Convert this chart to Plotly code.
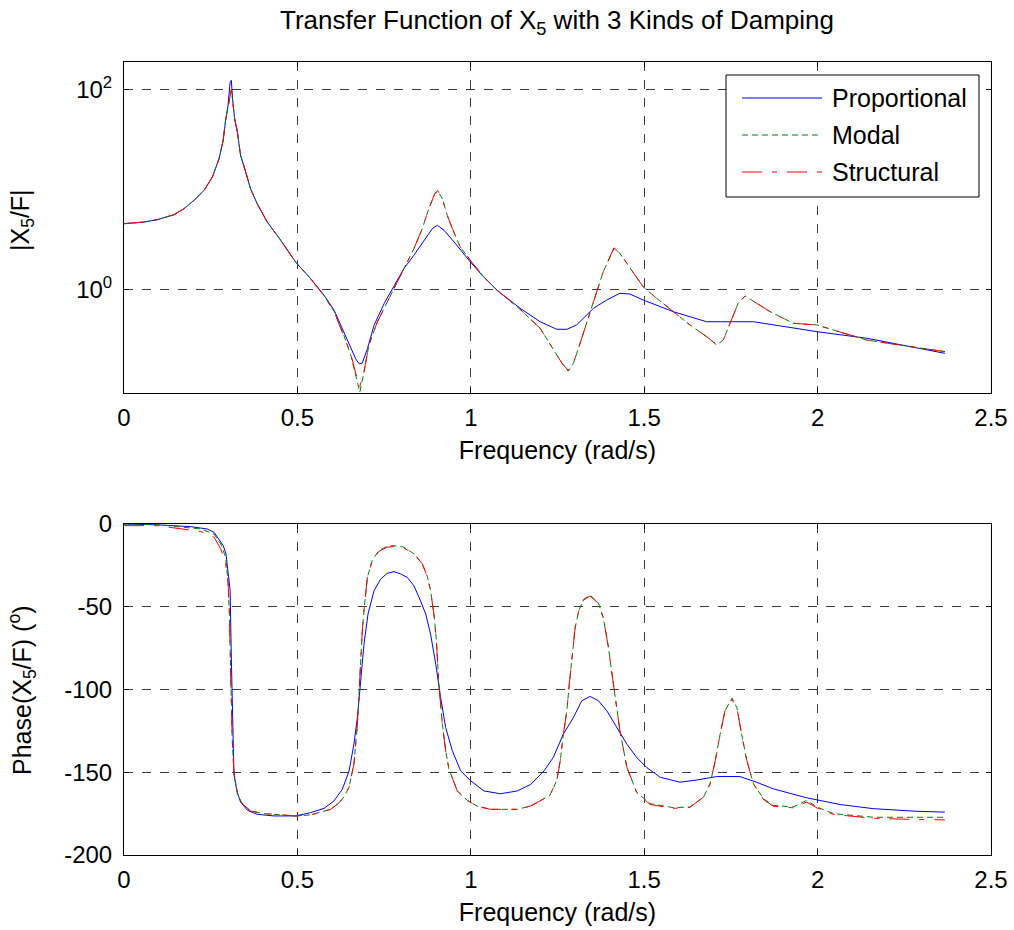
import plotly.graph_objects as go

# ---------------- data ----------------
# Magnitude |X5/F| (log axis)
freq_mag_prop = [0.000, 0.058, 0.096, 0.144, 0.173, 0.202, 0.231, 0.255, 0.274, 0.286, 0.293, 0.300,
                 0.306, 0.3095, 0.313, 0.319, 0.327, 0.336, 0.348, 0.365, 0.384, 0.413, 0.452,
                 0.495, 0.538, 0.577, 0.606, 0.634, 0.654, 0.668, 0.678, 0.687, 0.702, 0.721,
                 0.750, 0.779, 0.807, 0.836, 0.865, 0.889, 0.9035, 0.923, 0.952, 0.998, 1.036,
                 1.075, 1.142, 1.200, 1.248, 1.277, 1.305, 1.354, 1.392, 1.430, 1.459, 1.497,
                 1.584, 1.680, 1.815, 1.911, 1.998, 2.142, 2.286, 2.367]
mag_prop = [4.53, 4.71, 4.97, 5.57, 6.40, 7.76, 9.77, 13.3, 20.2, 30.9, 49.0, 69.2,
            117.0, 123.0, 80.5, 50.8, 37.4, 21.9, 16.1, 10.1, 7.18, 4.71, 3.09,
            1.87, 1.28, 0.871, 0.617, 0.374, 0.265, 0.202, 0.180, 0.183, 0.255, 0.437,
            0.719, 1.10, 1.61, 2.19, 3.09, 4.04, 4.37, 3.89, 2.97, 1.89, 1.34,
            0.984, 0.646, 0.474, 0.398, 0.398, 0.440, 0.646, 0.782, 0.912, 0.897, 0.782,
            0.597, 0.474, 0.474, 0.423, 0.377, 0.324, 0.257, 0.229]

freq_mag_modal = [0.000, 0.058, 0.096, 0.144, 0.173, 0.202, 0.231, 0.255, 0.274, 0.286, 0.293, 0.300,
                  0.306, 0.3095, 0.313, 0.319, 0.327, 0.336, 0.348, 0.365, 0.384, 0.413, 0.452,
                  0.495, 0.538, 0.577, 0.606, 0.634, 0.654, 0.668, 0.680, 0.692, 0.706, 0.730,
                  0.769, 0.807, 0.836, 0.860, 0.879, 0.896, 0.905, 0.918, 0.932, 0.947, 0.969,
                  0.998, 1.036, 1.075, 1.142, 1.200, 1.238, 1.263, 1.281, 1.296, 1.315, 1.334,
                  1.354, 1.382, 1.413, 1.430, 1.450, 1.497, 1.536, 1.584, 1.632, 1.680, 1.709,
                  1.728, 1.747, 1.771, 1.791, 1.834, 1.863, 1.930, 1.998, 2.045, 2.142, 2.238, 2.367]
mag_modal = [4.53, 4.71, 4.97, 5.57, 6.40, 7.76, 9.77, 13.3, 20.2, 30.9, 49.0, 66.0,
             89.0, 98.0, 78.0, 50.8, 37.4, 21.9, 16.1, 10.1, 7.18, 4.71, 3.09,
             1.87, 1.28, 0.86, 0.60, 0.347, 0.219, 0.138, 0.0933, 0.148, 0.275, 0.468,
             0.871, 1.61, 2.55, 4.04, 6.40, 9.04, 9.55, 8.05, 5.50, 4.04, 2.67,
             1.96, 1.35, 0.984, 0.631, 0.407, 0.247, 0.182, 0.152, 0.182, 0.288, 0.457,
             0.782, 1.50, 2.57, 2.29, 1.82, 1.06, 0.813, 0.597, 0.440, 0.336, 0.277,
             0.311, 0.457, 0.724, 0.857, 0.697, 0.597, 0.457, 0.440, 0.392, 0.311, 0.277, 0.238]

freq_mag_struct = [0.000, 0.058, 0.096, 0.144, 0.173, 0.202, 0.231, 0.255, 0.274, 0.286, 0.293, 0.300,
                   0.306, 0.3095, 0.313, 0.319, 0.327, 0.336, 0.348, 0.365, 0.384, 0.413, 0.452,
                   0.495, 0.538, 0.577, 0.606, 0.634, 0.654, 0.668, 0.680, 0.692, 0.706, 0.730,
                   0.769, 0.807, 0.836, 0.860, 0.879, 0.896, 0.905, 0.918, 0.932, 0.947, 0.969,
                   0.998, 1.036, 1.075, 1.142, 1.200, 1.238, 1.263, 1.281, 1.296, 1.315, 1.334,
                   1.354, 1.382, 1.413, 1.430, 1.450, 1.497, 1.536, 1.584, 1.632, 1.680, 1.709,
                   1.728, 1.747, 1.771, 1.791, 1.834, 1.863, 1.930, 1.998, 2.045, 2.142, 2.238, 2.367]
mag_struct = [4.53, 4.71, 4.97, 5.57, 6.40, 7.76, 9.77, 13.3, 20.2, 30.9, 49.0, 66.0,
              90.0, 100.0, 78.0, 50.8, 37.4, 21.9, 16.1, 10.1, 7.18, 4.71, 3.09,
              1.87, 1.28, 0.86, 0.60, 0.347, 0.225, 0.145, 0.107, 0.150, 0.275, 0.468,
              0.871, 1.61, 2.55, 4.04, 6.40, 9.04, 9.7, 8.05, 5.50, 4.04, 2.67,
              1.96, 1.35, 0.984, 0.631, 0.407, 0.247, 0.182, 0.155, 0.182, 0.288, 0.457,
              0.782, 1.50, 2.60, 2.29, 1.82, 1.06, 0.813, 0.597, 0.440, 0.336, 0.280,
              0.311, 0.457, 0.724, 0.857, 0.697, 0.597, 0.457, 0.440, 0.392, 0.311, 0.277, 0.238]

# Phase (degrees)
freq_ph_prop = [0.000, 0.096, 0.192, 0.240, 0.2595, 0.274, 0.286, 0.294, 0.300, 0.306, 0.3095, 0.313,
                0.317, 0.325, 0.336, 0.356, 0.384, 0.4325, 0.495, 0.538, 0.577, 0.6055, 0.6296,
                0.649, 0.663, 0.673, 0.682, 0.692, 0.7036, 0.721, 0.740, 0.759, 0.7786, 0.798,
                0.817, 0.836, 0.855, 0.870, 0.884, 0.899, 0.913, 0.9275, 0.9468, 0.9708, 1.000,
                1.038, 1.086, 1.134, 1.173, 1.211, 1.238, 1.267, 1.296, 1.320, 1.344, 1.368,
                1.392, 1.421, 1.450, 1.478, 1.507, 1.546, 1.603, 1.651, 1.709, 1.776, 1.824,
                1.872, 1.968, 2.065, 2.161, 2.276, 2.367]
ph_prop = [0.0, -0.5, -1.6, -3.0, -5.0, -9.0, -13.0, -18.0, -28.0, -40.0, -81.0, -125.0,
           -151.0, -161.0, -168.0, -173.0, -175.4, -176.4, -176.4, -174.4, -171.8, -167.3, -160.3,
           -149.2, -133.0, -117.0, -94.8, -72.6, -54.4, -40.3, -33.3, -29.8, -28.8, -30.2,
           -32.3, -37.3, -46.4, -54.4, -66.5, -84.7, -104.8, -123.0, -137.0, -149.2, -155.2,
           -161.3, -163.0, -161.3, -157.3, -149.2, -141.0, -126.9, -116.9, -106.8, -104.2, -106.8,
           -112.8, -123.0, -133.0, -141.0, -147.1, -153.0, -156.0, -154.7, -152.6, -152.6, -156.0,
           -160.0, -165.4, -169.5, -172.0, -173.5, -174.1]

freq_ph_modal = [0.000, 0.096, 0.221, 0.2595, 0.279, 0.293, 0.300, 0.304, 0.3076, 0.312, 0.317, 0.327,
                 0.341, 0.365, 0.404, 0.495, 0.538, 0.596, 0.620, 0.634, 0.649, 0.663, 0.673,
                 0.6776, 0.682, 0.687, 0.692, 0.702, 0.716, 0.735, 0.759, 0.7786, 0.807, 0.836,
                 0.860, 0.875, 0.884, 0.894, 0.9006, 0.908, 0.918, 0.9275, 0.937, 0.961, 0.990,
                 1.019, 1.057, 1.134, 1.173, 1.2015, 1.228, 1.248, 1.258, 1.267, 1.277, 1.284,
                 1.291, 1.301, 1.311, 1.325, 1.344, 1.368, 1.382, 1.397, 1.406, 1.416, 1.430,
                 1.450, 1.478, 1.517, 1.584, 1.632, 1.671, 1.690, 1.705, 1.719, 1.733, 1.753,
                 1.767, 1.781, 1.796, 1.815, 1.844, 1.872, 1.930, 1.968, 1.998, 2.046, 2.161,
                 2.257, 2.367]
ph_modal = [0.0, -0.4, -3.0, -6.0, -12.0, -20.0, -35.0, -55.0, -90.0, -130.0, -150.0, -163.0,
            -169.0, -173.4, -175.0, -176.4, -175.8, -172.4, -168.5, -165.0, -159.0, -145.0, -121.0,
            -100.0, -80.6, -65.0, -52.0, -32.0, -22.0, -16.0, -13.5, -13.1, -14.0, -18.0,
            -24.0, -32.0, -40.3, -55.0, -70.0, -96.8, -121.0, -137.0, -148.0, -161.3, -167.0,
            -170.5, -172.4, -172.4, -170.4, -167.0, -164.0, -155.0, -143.0, -127.0, -112.8, -96.8,
            -82.7, -62.6, -52.6, -45.5, -43.0, -47.6, -56.6, -74.7, -88.8, -102.8, -124.9,
            -147.0, -162.0, -169.0, -171.4, -171.0, -165.0, -157.0, -143.0, -127.0, -112.8, -105.2,
            -110.8, -127.0, -143.0, -157.0, -166.0, -170.0, -171.0, -167.0, -171.0, -175.0, -177.2,
            -177.2, -177.2]

freq_ph_struct = [0.000, 0.096, 0.221, 0.2595, 0.279, 0.293, 0.300, 0.304, 0.3076, 0.312, 0.317, 0.327,
                  0.341, 0.365, 0.404, 0.495, 0.538, 0.596, 0.620, 0.634, 0.649, 0.663, 0.673,
                  0.6776, 0.682, 0.687, 0.692, 0.702, 0.716, 0.735, 0.759, 0.7786, 0.807, 0.836,
                  0.860, 0.875, 0.884, 0.894, 0.9006, 0.908, 0.918, 0.9275, 0.937, 0.961, 0.990,
                  1.019, 1.057, 1.134, 1.173, 1.2015, 1.228, 1.248, 1.258, 1.267, 1.277, 1.284,
                  1.291, 1.301, 1.311, 1.325, 1.344, 1.368, 1.382, 1.397, 1.406, 1.416, 1.430,
                  1.450, 1.478, 1.517, 1.584, 1.632, 1.671, 1.690, 1.705, 1.719, 1.733, 1.753,
                  1.767, 1.781, 1.796, 1.815, 1.844, 1.872, 1.930, 1.968, 1.998, 2.046, 2.161,
                  2.257, 2.367]
ph_struct = [-1.0, -1.0, -4.5, -8.0, -15.0, -24.0, -35.0, -55.0, -90.0, -130.0, -150.0, -163.0,
             -169.0, -173.4, -175.0, -176.4, -175.8, -172.4, -168.5, -165.0, -159.0, -145.0, -121.0,
             -100.0, -80.6, -65.0, -52.0, -32.0, -22.0, -16.5, -14.0, -13.6, -14.5, -18.0,
             -24.0, -32.0, -40.3, -55.0, -70.0, -96.8, -121.0, -137.0, -148.0, -161.3, -167.0,
             -170.5, -172.4, -172.4, -170.4, -167.0, -164.0, -155.0, -143.0, -127.0, -112.8, -96.8,
             -82.7, -62.6, -52.6, -46.0, -43.5, -48.0, -56.6, -74.7, -88.8, -102.8, -124.9,
             -147.0, -162.0, -169.5, -171.8, -171.2, -165.0, -157.0, -143.0, -127.0, -112.8, -106.0,
             -110.8, -127.0, -143.0, -157.0, -166.5, -170.5, -171.5, -168.0, -171.5, -175.5, -177.8,
             -178.4, -178.8]

series_names = ["Proportional", "Modal", "Structural"]
series_colors = ["#0000ff", "#008000", "#ff0000"]
series_dash = ["solid", "6px,4px", "20px,10px,5px,10px"]

title_text = "Transfer Function of X<sub>5</sub> with 3 Kinds of Damping"
x_label = "Frequency (rad/s)"
y1_label = "|X<sub>5</sub>/F|"
y2_label = "Phase(X<sub>5</sub>/F) (<sup>o</sup>)"
x_ticks = [0, 0.5, 1, 1.5, 2, 2.5]
x_ticktext = ["0", "0.5", "1", "1.5", "2", "2.5"]
y1_tickvals = [1, 100]
y1_ticktext = ["10<sup>0</sup>", "10<sup>2</sup>"]
y2_ticks = [0, -50, -100, -150, -200]
y2_ticktext = ["0", "-50", "-100", "-150", "-200"]

# ---------------- figure ----------------
FONT = "Liberation Sans, Arial, Helvetica, sans-serif"
FS_TICK = 24
FS_LABEL = 25
FS_TITLE = 26
FS_LEG = 25
W, H = 1014, 930
L, R, T, B = 124, 23, 62, 75
PW, PH = W - L - R, H - T - B


def px_to_paper(px, py):
    return (px - L) / PW, (H - B - py) / PH


fig = go.Figure()

mag_sets = [(freq_mag_prop, mag_prop), (freq_mag_modal, mag_modal), (freq_mag_struct, mag_struct)]
ph_sets = [(freq_ph_prop, ph_prop), (freq_ph_modal, ph_modal), (freq_ph_struct, ph_struct)]

for i, (fx, fy) in enumerate(mag_sets):
    fig.add_trace(go.Scatter(x=fx, y=fy, mode="lines", name=series_names[i],
                             line=dict(color=series_colors[i], width=1, dash=series_dash[i]),
                             xaxis="x", yaxis="y", showlegend=False))
for i, (fx, fy) in enumerate(ph_sets):
    fig.add_trace(go.Scatter(x=fx, y=fy, mode="lines", name=series_names[i],
                             line=dict(color=series_colors[i], width=1, dash=series_dash[i]),
                             xaxis="x2", yaxis="y2", showlegend=False))

axis_common = dict(showline=True, linecolor="black", linewidth=1, mirror="ticks",
                   ticks="inside", ticklen=5, tickcolor="black", zeroline=False,
                   showgrid=True, gridcolor="#3c3c3c", gridwidth=1, griddash="dash",
                   automargin=False,
                   tickfont=dict(family=FONT, size=FS_TICK, color="black"))

top_domain = [(H - B - 393) / PH, 1.0]
bot_domain = [0.0, (H - B - 524) / PH]

fig.update_layout(
    width=W, height=H,
    paper_bgcolor="white", plot_bgcolor="white",
    margin=dict(l=L, r=R, t=T, b=B),
    font=dict(family=FONT, size=FS_TICK, color="black"),
    showlegend=False,
    title=dict(text=title_text, x=557 / W, xanchor="center", xref="container",
               y=1 - 20 / H, yanchor="middle", yref="container",
               font=dict(family=FONT, size=FS_TITLE, color="black")),
    xaxis=dict(domain=[0, 1], anchor="y", range=[0, 2.5], tickvals=x_ticks,
               ticktext=x_ticktext, ticklabelstandoff=3,
               title=dict(text=x_label, standoff=11, font=dict(family=FONT, size=FS_LABEL)),
               **axis_common),
    yaxis=dict(domain=top_domain, anchor="x", type="log", range=[-1.037, 2.273],
               tickvals=y1_tickvals, ticktext=y1_ticktext, ticklabelstandoff=6,
               **axis_common),
    xaxis2=dict(domain=[0, 1], anchor="y2", range=[0, 2.5], tickvals=x_ticks,
                ticktext=x_ticktext, ticklabelstandoff=3,
                title=dict(text=x_label, standoff=11, font=dict(family=FONT, size=FS_LABEL)),
                **axis_common),
    yaxis2=dict(domain=bot_domain, anchor="x2", range=[-200, 0], tickvals=y2_ticks,
                ticktext=y2_ticktext, ticklabelstandoff=6,
                **axis_common),
)

# y-axis titles
ax, ay = px_to_paper(22, 220)
fig.add_annotation(text=y1_label, xref="paper", yref="paper", x=ax, y=ay,
                   xanchor="center", yanchor="middle", textangle=-90, showarrow=False,
                   font=dict(family=FONT, size=FS_LABEL, color="black"))
ax, ay = px_to_paper(22, 690)
fig.add_annotation(text=y2_label, xref="paper", yref="paper", x=ax, y=ay,
                   xanchor="center", yanchor="middle", textangle=-90, showarrow=False,
                   font=dict(family=FONT, size=FS_LABEL, color="black"))

# legend box (drawn like the reference: long line samples)
bx0, by0 = px_to_paper(726, 197)
bx1, by1 = px_to_paper(979, 75)
fig.add_shape(type="rect", xref="paper", yref="paper", x0=bx0, y0=by0, x1=bx1, y1=by1,
              line=dict(color="black", width=1), fillcolor="white", layer="above")
row_py = [98, 135, 172]
for i in range(3):
    lx0, ly = px_to_paper(742, row_py[i])
    lx1, _ = px_to_paper(822, row_py[i])
    fig.add_shape(type="line", xref="paper", yref="paper", x0=lx0, y0=ly, x1=lx1, y1=ly,
                  line=dict(color=series_colors[i], width=1, dash=series_dash[i]), layer="above")
    tx, _ = px_to_paper(830, row_py[i])
    fig.add_annotation(text=series_names[i], xref="paper", yref="paper", x=tx, y=ly,
                       xanchor="left", yanchor="middle", showarrow=False,
                       font=dict(family=FONT, size=FS_LEG, color="black"))

fig.write_html("out.html",
               config={"displayModeBar": False},
               post_script="document.body.style.margin='0px';document.body.style.padding='0px';")
